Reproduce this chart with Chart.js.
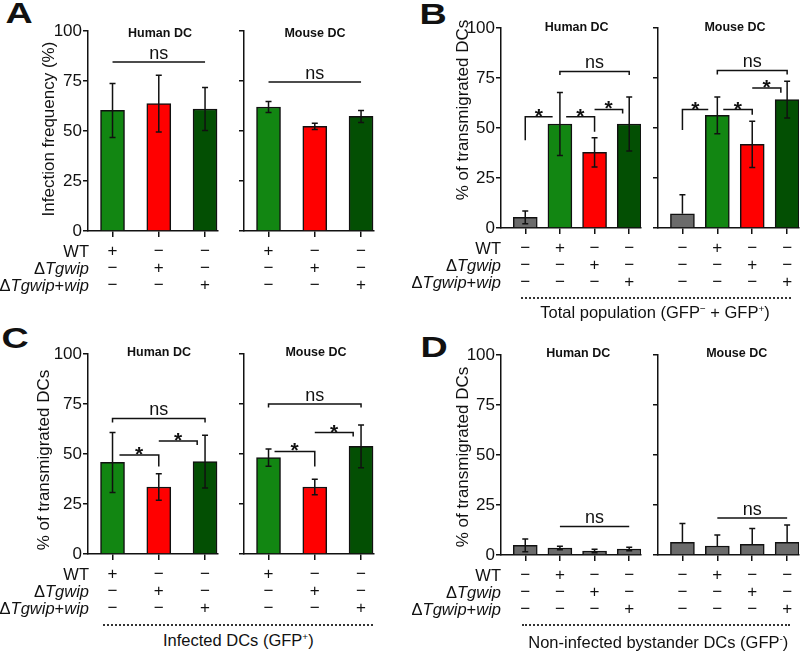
<!DOCTYPE html>
<html>
<head>
<meta charset="utf-8">
<script src="https://cdn.jsdelivr.net/npm/chart.js@4.4.1/dist/chart.umd.min.js"></script>
<style>
  body { margin: 0; background: #fff; }
  #fig { position: relative; width: 800px; height: 651px; overflow: hidden; background: #fff;
         font-family: Arial, "Liberation Sans", sans-serif; color: #111; }
  #fig canvas { position: absolute; }
  .t { position: absolute; line-height: 1; white-space: nowrap; }
  .dots { position: absolute; height: 0; border-top: 2px dotted #333; }
  .sup { font-size: 0.6em; position: relative; top: -0.6em; }
</style>
</head>
<body>
<div id="fig"></div>
<script>
// row names of the +/- table under each panel
const rowNames = ['WT', '\u0394<i>Tgwip</i>', '\u0394<i>Tgwip</i>+<i>wip</i>'];
// +/- per column (rows = WT, dTgwip, dTgwip+wip)
const signs3 = [['+', '\u2212', '\u2212'], ['\u2212', '+', '\u2212'], ['\u2212', '\u2212', '+']];
const signs4 = [['\u2212', '+', '\u2212', '\u2212'], ['\u2212', '\u2212', '+', '\u2212'], ['\u2212', '\u2212', '\u2212', '+']];

const green = '#128612', red = '#ff0000', dark = '#034f03', grey = '#6b6b6b';
const colors3 = [green, red, dark];
const colors4 = [grey, green, red, dark];
const greys4 = [grey, grey, grey, grey];

// A - infection frequency (%)
const aHumanMean = [60.3, 63.7, 61];
const aHumanSd = [13.5, 14.2, 10.8];
const aMouseMean = [62, 52.3, 57.3];
const aMouseSd = [2.7, 1.6, 3];
// B - total population
const bHumanMean = [5.3, 52, 37.8, 52];
const bHumanSd = [3.2, 15.8, 7.3, 13.5];
const bMouseMean = [7.1, 56.3, 41.8, 64.2];
const bMouseSd = [9.5, 9.2, 11.6, 9.2];
// C - infected DCs
const cHumanMean = [45.8, 33.5, 46.2];
const cHumanSd = [15, 6.6, 13.2];
const cMouseMean = [48.2, 33.5, 53.8];
const cMouseSd = [4.3, 3.9, 10.7];
// D - bystander DCs
const dHumanMean = [4.8, 3.5, 2, 3];
const dHumanSd = [3.2, 0.9, 0.9, 0.9];
const dMouseMean = [6.3, 4.5, 5.3, 6.3];
const dMouseSd = [9.5, 5.5, 8, 8.7];

// significance brackets (x in category units, y in %)
const aHumanSig = [{x1: 0, x2: 2, y: 84.5, label: 'ns'}];
const aMouseSig = [{x1: 0, x2: 2, y: 74.5, label: 'ns'}];
const bHumanSig = [
  {x1: 0, x2: 0.79, y: 55.6, leg1: 43.9, label: '*'},
  {x1: 1.18, x2: 2, y: 55.6, leg2: 48.1, label: '*'},
  {x1: 2, x2: 2.81, y: 59.3, leg2: 57.3, label: '*'},
  {x1: 1, x2: 3, y: 78.2, leg1: 76.5, leg2: 76.5, label: 'ns'}
];
const bMouseSig = [
  {x1: 0, x2: 0.74, y: 59.2, leg1: 49, label: '*'},
  {x1: 1.17, x2: 2, y: 59.2, leg2: 56.6, label: '*'},
  {x1: 2, x2: 2.82, y: 70, leg2: 67.6, label: '*'},
  {x1: 1, x2: 3, y: 78.8, leg1: 76.8, leg2: 76.8, label: 'ns'}
];
const cHumanSig = [
  {x1: 0.15, x2: 1, y: 49.5, leg2: 43.7, label: '*'},
  {x1: 1, x2: 1.83, y: 56.5, leg2: 54.5, label: '*'},
  {x1: 0, x2: 2, y: 67.8, leg1: 65.8, leg2: 65.8, label: 'ns'}
];
const cMouseSig = [
  {x1: 0.13, x2: 1, y: 51.3, leg2: 43.7, label: '*'},
  {x1: 1, x2: 1.83, y: 60.7, leg2: 58.7, label: '*'},
  {x1: 0, x2: 2, y: 75, leg1: 73.2, leg2: 73.2, label: 'ns'}
];
const dHumanSig = [{x1: 1, x2: 3, y: 14.3, label: 'ns'}];
const dMouseSig = [{x1: 1, x2: 3, y: 18.5, label: 'ns'}];

const fig = document.getElementById('fig');
const ink = '#111';

// error bars + brackets, drawn through the chart scales
const sigPlugin = {
  id: 'sig',
  afterDatasetsDraw(chart, args, opts) {
    const ctx = chart.ctx, xs = chart.scales.x, ys = chart.scales.y;
    const pts = chart.data.datasets[0].data;
    ctx.save();
    ctx.strokeStyle = ink;
    ctx.fillStyle = ink;
    ctx.lineWidth = 1.5;
    opts.err.forEach((e, i) => {
      const v = pts[i].y;
      const x = xs.getPixelForValue(i);
      const hi = ys.getPixelForValue(v + e);
      const both = v - e >= 0;
      const lo = ys.getPixelForValue(both ? v - e : v);
      ctx.beginPath();
      ctx.moveTo(x, hi); ctx.lineTo(x, lo);
      ctx.moveTo(x - 3, hi); ctx.lineTo(x + 3, hi);
      if (both) { ctx.moveTo(x - 3, lo); ctx.lineTo(x + 3, lo); }
      ctx.stroke();
    });
    opts.brackets.forEach(b => {
      const x1 = xs.getPixelForValue(b.x1), x2 = xs.getPixelForValue(b.x2);
      const y = ys.getPixelForValue(b.y);
      ctx.beginPath();
      if (b.leg1 != null) { ctx.moveTo(x1, ys.getPixelForValue(b.leg1)); ctx.lineTo(x1, y); }
      else ctx.moveTo(x1, y);
      ctx.lineTo(x2, y);
      if (b.leg2 != null) ctx.lineTo(x2, ys.getPixelForValue(b.leg2));
      ctx.stroke();
      ctx.textAlign = 'center';
      ctx.textBaseline = 'alphabetic';
      if (b.label === '*') {
        ctx.font = 'bold 21px Arial, "Liberation Sans", sans-serif';
        ctx.fillText('*', (x1 + x2) / 2, y + 6);
      } else {
        ctx.font = '18px Arial, "Liberation Sans", sans-serif';
        ctx.fillText(b.label, (x1 + x2) / 2, y - 3.5);
      }
    });
    ctx.restore();
  }
};

function makeChart(o) {
  const yw = o.labels ? 45 : 8, xh = 70, pt = 12, pr = 8;
  const [L, T, R, B] = o.area;
  const cv = document.createElement('canvas');
  cv.width = yw + (R - L) + pr;
  cv.height = pt + (B - T) + xh;
  cv.style.left = (L - yw) + 'px';
  cv.style.top = (T - pt) + 'px';
  fig.appendChild(cv);
  new Chart(cv, {
    type: 'bar',
    data: {
      datasets: [{
        data: o.mean.map((v, i) => ({x: i, y: v})),
        backgroundColor: o.colors,
        borderColor: ink,
        borderWidth: 1.5,
        barThickness: 24
      }]
    },
    options: {
      responsive: false,
      animation: false,
      devicePixelRatio: 1,
      layout: {padding: {top: pt, right: pr, left: 0, bottom: 0}},
      plugins: {
        legend: {display: false},
        tooltip: {enabled: false},
        sig: {err: o.sd, brackets: o.sig}
      },
      scales: {
        x: {
          type: 'linear', min: o.xmin, max: o.xmax, offset: false, bounds: 'data',
          afterBuildTicks: s => { s.ticks = o.mean.map((v, i) => ({value: i})); },
          afterFit: s => { s.height = xh; },
          grid: {display: true, drawOnChartArea: false, drawTicks: true, tickLength: 6,
                 color: ink, lineWidth: 1.5, offset: false},
          border: {display: true, color: ink, width: 1.5},
          ticks: {autoSkip: false, maxRotation: 0, minRotation: 0, padding: 5.5, color: ink,
                  font: {family: 'Arial, "Liberation Sans", sans-serif', size: 17, lineHeight: 17 / 17},
                  callback: v => o.signs.map(r => r[v])}
        },
        y: {
          min: 0, max: 100,
          afterFit: s => { s.width = yw; },
          grid: {display: true, drawOnChartArea: false, drawTicks: true, tickLength: 5,
                 color: ink, lineWidth: 1.5},
          border: {display: true, color: ink, width: 1.5},
          ticks: {display: !!o.labels, stepSize: 25, padding: 1, color: ink,
                  font: {family: 'Arial, "Liberation Sans", sans-serif', size: 17}}
        }
      }
    },
    plugins: [sigPlugin]
  });
}

function txt(html, x, y, css, anchor) {
  const d = document.createElement('div');
  d.className = 't';
  d.innerHTML = html;
  d.style.cssText += css;
  d.style.left = x + 'px';
  d.style.top = y + 'px';
  d.style.transform = anchor;
  fig.appendChild(d);
}
const C = 'translate(-50%,-50%)', RT = 'translate(-100%,-50%)', ROT = 'translate(-50%,-50%) rotate(-90deg)';

// three-group panels: A and C; four-group panels: B and D
const x3 = {xmin: -0.53, xmax: 2.28}, x4 = {xmin: -0.7, xmax: 3.34};
makeChart({area: [88, 31, 218, 231], mean: aHumanMean, sd: aHumanSd, sig: aHumanSig, colors: colors3, signs: signs3, labels: true, ...x3});
makeChart({area: [244, 31, 374, 231], mean: aMouseMean, sd: aMouseSd, sig: aMouseSig, colors: colors3, signs: signs3, labels: false, ...x3});
makeChart({area: [501, 28, 641, 228], mean: bHumanMean, sd: bHumanSd, sig: bHumanSig, colors: colors4, signs: signs4, labels: true, ...x4});
makeChart({area: [658, 28, 799, 228], mean: bMouseMean, sd: bMouseSd, sig: bMouseSig, colors: colors4, signs: signs4, labels: false, ...x4});
makeChart({area: [88, 354, 218, 554], mean: cHumanMean, sd: cHumanSd, sig: cHumanSig, colors: colors3, signs: signs3, labels: true, ...x3});
makeChart({area: [244, 354, 374, 554], mean: cMouseMean, sd: cMouseSd, sig: cMouseSig, colors: colors3, signs: signs3, labels: false, ...x3});
makeChart({area: [501, 355, 641, 555], mean: dHumanMean, sd: dHumanSd, sig: dHumanSig, colors: greys4, signs: signs4, labels: true, ...x4});
makeChart({area: [658, 355, 799, 555], mean: dMouseMean, sd: dMouseSd, sig: dMouseSig, colors: greys4, signs: signs4, labels: false, ...x4});

// panel letters
const letterCss = 'font-weight:bold;font-size:29px;';
txt('A', 19, 12.5, letterCss, C + ' scaleX(1.3)');
txt('B', 433, 13.5, letterCss, C + ' scaleX(1.3)');
txt('C', 14.5, 337.5, letterCss, C + ' scaleX(1.3)');
txt('D', 434, 347, letterCss, C + ' scaleX(1.3)');

// sub-panel titles
const subCss = 'font-weight:bold;font-size:12.5px;';
txt('Human DC', 160, 33.3, subCss, C);
txt('Mouse DC', 315, 33.3, subCss, C);
txt('Human DC', 576.7, 27.3, subCss, C);
txt('Mouse DC', 735, 27.3, subCss, C);
txt('Human DC', 159, 352.3, subCss, C);
txt('Mouse DC', 316, 352.3, subCss, C);
txt('Human DC', 578.3, 353.3, subCss, C);
txt('Mouse DC', 736.7, 353.3, subCss, C);

// y-axis titles
const yCss = 'font-size:17px;';
txt('Infection frequency (%)', 48.3, 129, yCss, ROT);
txt('% of transmigrated DCs', 461.7, 110, yCss, ROT);
txt('% of transmigrated DCs', 43.3, 460, yCss, ROT);
txt('% of transmigrated DCs', 461.7, 456.7, yCss, ROT);

// row names of the +/- tables
const rowCss = 'font-size:16.5px;';
[[89, 231], [501, 228], [89, 554], [501, 555]].forEach(([rx, axisY]) => {
  rowNames.forEach((n, k) => txt(n, rx, axisY + 20 + 17 * k, rowCss, RT));
});

// group footers
const footCss = 'font-size:16.5px;';
function dots(x, y, w) {
  const d = document.createElement('div');
  d.className = 'dots';
  d.style.left = x + 'px'; d.style.top = y + 'px'; d.style.width = w + 'px';
  fig.appendChild(d);
}
dots(521, 297, 270);
dots(103, 624, 270);
dots(522, 624, 268);
txt('Total population (GFP<span class="sup">\u2212</span> + GFP<span class="sup">+</span>)', 655, 312.3, footCss, C);
txt('Infected DCs (GFP<span class="sup">+</span>)', 238.3, 640, footCss, C);
txt('Non-infected bystander DCs (GFP<span class="sup">-</span>)', 658.3, 641.7, footCss, C);
</script>
</body>
</html>
